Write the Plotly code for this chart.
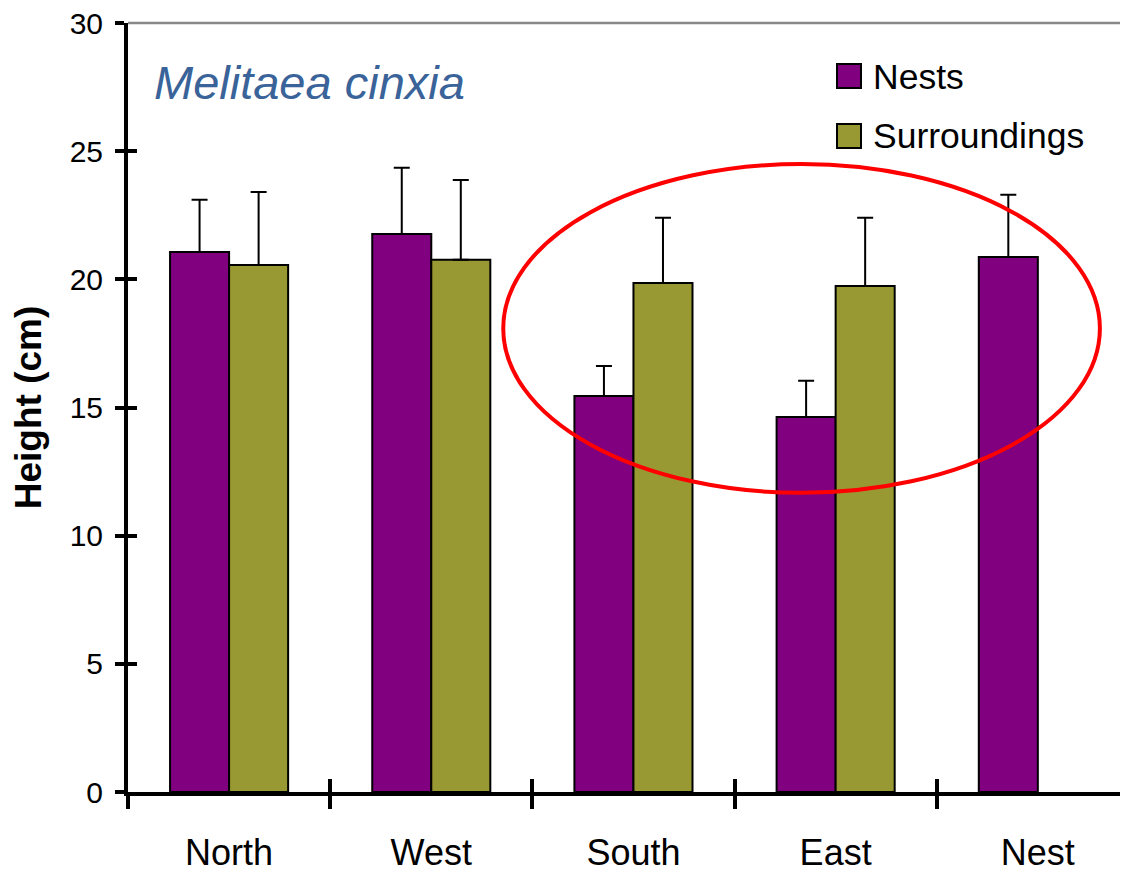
import plotly.graph_objects as go

categories = ["North", "West", "South", "East", "Nest"]
nests = [21.07, 21.77, 15.45, 14.63, 20.87]
nests_err = [2.03, 2.58, 1.17, 1.41, 2.43]
surroundings = [20.56, 20.76, 19.86, 19.74, None]
surroundings_err = [2.85, 3.12, 2.54, 2.66, None]
y_ticks = [0, 5, 10, 15, 20, 25, 30]

PURPLE = "#800080"
OLIVE = "#999933"
FONT = "Liberation Sans, Arial, sans-serif"

fig = go.Figure()
fig.add_trace(go.Bar(
    x=categories, y=nests, name="Nests",
    marker=dict(color=PURPLE, line=dict(color="black", width=2)),
    error_y=dict(type="data", array=nests_err, symmetric=False, arrayminus=[0]*5,
                 color="black", thickness=2, width=8),
    showlegend=False,
))
fig.add_trace(go.Bar(
    x=categories, y=surroundings, name="Surroundings",
    marker=dict(color=OLIVE, line=dict(color="black", width=2)),
    error_y=dict(type="data", array=surroundings_err, symmetric=False, arrayminus=[0]*5,
                 color="black", thickness=2, width=8),
    showlegend=False,
))
# helper trace for the overlay axes (inside half of the crossing ticks)
fig.add_trace(go.Scatter(
    x=categories, y=[0]*len(categories), xaxis="x2", yaxis="y2",
    mode="markers", marker=dict(opacity=0), hoverinfo="skip", showlegend=False,
))

xrange = [-0.5, 4.446]
fig.update_layout(
    width=1120, height=865,
    margin=dict(l=120, r=0, t=15, b=81, autoexpand=False),
    paper_bgcolor="white", plot_bgcolor="white",
    barmode="group", bargap=0.416, bargroupgap=0,
    font=dict(family=FONT, color="black"),
    xaxis=dict(
        type="category", categoryorder="array", categoryarray=categories,
        range=xrange, showline=True, linecolor="black", linewidth=4,
        ticks="outside", tickson="boundaries", ticklen=13, tickwidth=4, tickcolor="black",
        tickfont=dict(size=36, family=FONT), showgrid=False, zeroline=False,
        ticklabelstandoff=26, ticklabeloverflow="allow", automargin=False,
    ),
    yaxis=dict(
        range=[0, 30], tickvals=y_ticks, showline=True, linecolor="black", linewidth=4,
        ticks="outside", ticklen=9, tickwidth=4, tickcolor="black",
        tickfont=dict(size=30, family=FONT), showgrid=False, zeroline=False,
        ticklabelstandoff=6, ticklabeloverflow="allow", automargin=False,
        title=dict(text="<b>Height (cm)</b>", font=dict(size=37, family=FONT), standoff=32),
    ),
    xaxis2=dict(
        type="category", categoryorder="array", categoryarray=categories,
        overlaying="x", range=xrange, showline=False, showgrid=False, zeroline=False,
        ticks="inside", tickson="boundaries", ticklen=13, tickwidth=4, tickcolor="black",
        showticklabels=False, automargin=False,
    ),
    yaxis2=dict(
        overlaying="y", side="left", range=[0, 30], tickvals=y_ticks,
        showline=False, showgrid=False, zeroline=False, automargin=False,
        ticks="inside", ticklen=9, tickwidth=4, tickcolor="black", showticklabels=False,
    ),
)

shapes = [
    # top border line
    dict(type="line", xref="paper", yref="paper", x0=0, x1=1, y0=1, y1=1,
         line=dict(color="#888888", width=2.5), layer="below"),
    # red highlight ellipse
    dict(type="circle", xref="x", yref="y", x0=1.356, x1=4.307, y0=11.67, y1=24.5,
         line=dict(color="#ff0000", width=4), fillcolor="rgba(0,0,0,0)"),
    # legend swatches
    dict(type="rect", xref="paper", yref="paper", x0=0.709, x1=0.733, y0=0.9155, y1=0.9467,
         fillcolor=PURPLE, line=dict(color="black", width=2)),
    dict(type="rect", xref="paper", yref="paper", x0=0.709, x1=0.733, y0=0.8375, y1=0.8687,
         fillcolor=OLIVE, line=dict(color="black", width=2)),
]
annotations = [
    dict(text="<i>Melitaea cinxia</i>", xref="paper", yref="paper", x=0.024, y=0.922,
         xanchor="left", yanchor="middle", showarrow=False,
         font=dict(size=47, family=FONT, color="#3a6399")),
    dict(text="Nests", xref="paper", yref="paper", x=0.743, y=0.9298,
         xanchor="left", yanchor="middle", showarrow=False, font=dict(size=35.5, family=FONT)),
    dict(text="Surroundings", xref="paper", yref="paper", x=0.743, y=0.853,
         xanchor="left", yanchor="middle", showarrow=False, font=dict(size=35.5, family=FONT)),
]
fig.update_layout(shapes=shapes, annotations=annotations)

fig.write_html("out.html")
